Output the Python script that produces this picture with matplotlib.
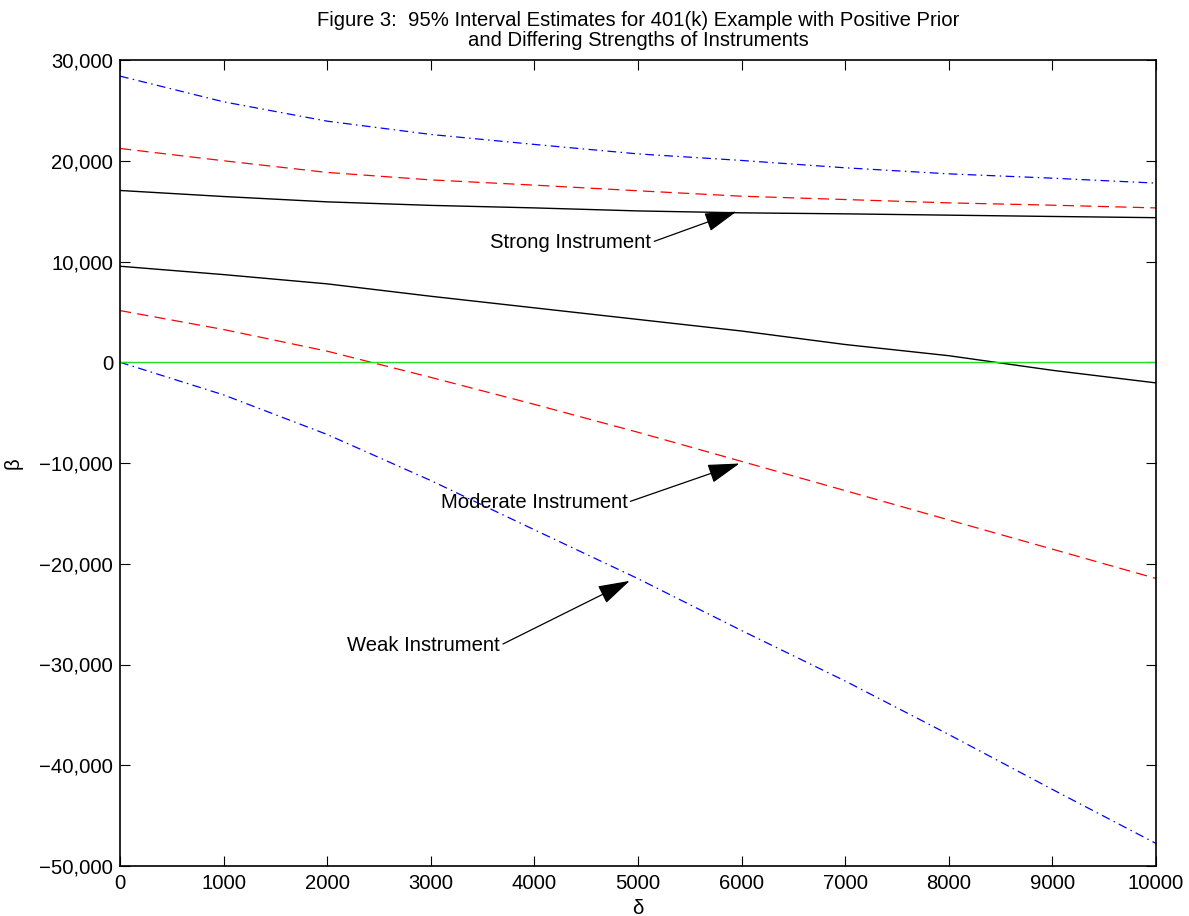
import matplotlib
matplotlib.use("Agg")
import matplotlib.pyplot as plt
from matplotlib.ticker import FuncFormatter

plt.rcParams['font.family'] = ['Liberation Sans', 'DejaVu Sans']

delta = [0, 1000, 2000, 3000, 4000, 5000, 6000, 7000, 8000, 9000, 10000]
weak_upper = [28400, 25850, 23930, 22610, 21620, 20680, 20030, 19300, 18700, 18270, 17780]
weak_lower = [0, -3240, -7170, -11740, -16630, -21480, -26630, -31640, -36950, -42400, -47760]
moderate_upper = [21220, 20000, 18840, 18100, 17580, 17020, 16480, 16150, 15820, 15590, 15320]
moderate_lower = [5130, 3250, 1100, -1500, -4180, -6950, -9840, -12740, -15650, -18550, -21460]
strong_upper = [17050, 16450, 15920, 15570, 15320, 15020, 14830, 14730, 14600, 14470, 14350]
strong_lower = [9530, 8700, 7780, 6550, 5400, 4250, 3100, 1760, 650, -800, -2050]

x_ticks = [0, 1000, 2000, 3000, 4000, 5000, 6000, 7000, 8000, 9000, 10000]
y_ticks = [-50000, -40000, -30000, -20000, -10000, 0, 10000, 20000, 30000]

title = ("Figure 3:  95% Interval Estimates for 401(k) Example with Positive Prior\n"
         "and Differing Strengths of Instruments")

FS = 14.6

fig = plt.figure(figsize=(11.89, 9.16), dpi=100)
ax = fig.add_axes([120/1189, 50/916, 1036/1189, 806/916])

blue_ls = (0, (7, 3.5, 1.2, 3.5))
red_ls = (0, (9, 5))
ax.plot(delta, weak_upper, color='#0000ff', lw=0.9, ls=blue_ls)
ax.plot(delta, weak_lower, color='#0000ff', lw=0.9, ls=blue_ls)
ax.plot(delta, moderate_upper, color='#ff0000', lw=0.9, ls=red_ls)
ax.plot(delta, moderate_lower, color='#ff0000', lw=0.9, ls=red_ls)
ax.plot(delta, strong_upper, color='black', lw=1.0)
ax.plot(delta, strong_lower, color='black', lw=1.0)
ax.axhline(0, color='#22dd22', lw=1.0)

ax.set_xlim(0, 10000)
ax.set_ylim(-50000, 30000)
ax.set_xticks(x_ticks)
ax.set_yticks(y_ticks)
ax.xaxis.set_major_formatter(FuncFormatter(lambda v, p: f"{int(v)}"))
ax.yaxis.set_major_formatter(FuncFormatter(lambda v, p: f"{int(v):,}".replace('-', '\u2212')))
ax.tick_params(direction='in', length=7.2, width=0.8, top=True, right=True,
               labelsize=FS)
ax.tick_params(axis='x', pad=6)
ax.tick_params(axis='y', pad=5)
for s in ax.spines.values():
    s.set_linewidth(1.2)

ax.set_xlabel('\u03b4', fontsize=FS, labelpad=4)
ax.set_ylabel('\u03b2', fontsize=FS, labelpad=12)
ax.set_title(title, fontsize=FS, linespacing=1.1, pad=10)

arrow = dict(arrowstyle='-|>,head_length=1.0,head_width=0.3', color='black',
             lw=0.9, mutation_scale=20, shrinkA=0, shrinkB=0, relpos=(1.0, 0.5))
ax.annotate('Strong Instrument', xy=(5950, 14950), xytext=(5130, 11900),
            ha='right', va='center', fontsize=FS, arrowprops=arrow)
ax.annotate('Moderate Instrument', xy=(5980, -10050), xytext=(4900, -13900),
            ha='right', va='center', fontsize=FS, arrowprops=arrow)
ax.annotate('Weak Instrument', xy=(4920, -21700), xytext=(3670, -28100),
            ha='right', va='center', fontsize=FS, arrowprops=arrow)

fig.savefig('out.png', dpi=100)
